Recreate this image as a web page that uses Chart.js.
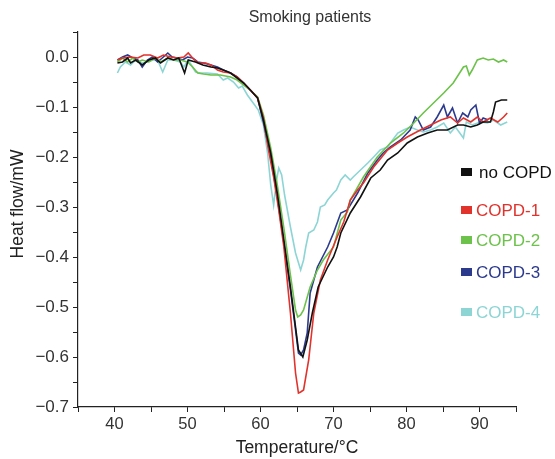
<!DOCTYPE html>
<html>
<head>
<meta charset="utf-8">
<script src="https://cdn.jsdelivr.net/npm/chart.js@4.4.1/dist/chart.umd.min.js"></script>
<style>
  html, body { margin: 0; padding: 0; background: #fff; }
  #wrap { width: 555px; height: 459px; position: relative; }
</style>
</head>
<body>
<div id="wrap"><canvas id="dscChart"></canvas></div>
<script>
// Smoking patients - DSC heat flow curves
const chartTitle = 'Smoking patients';
const xTitle = 'Temperature/\u00B0C';
const yTitle = 'Heat flow/mW';
const seriesNames = ['no COPD', 'COPD-1', 'COPD-2', 'COPD-3', 'COPD-4'];
const seriesColors = ['#111111', '#e2322c', '#6cc24a', '#2c3a8e', '#8dd5d5'];
const xTickLabels = [40, 50, 60, 70, 80, 90];
const yTickLabels = [0.0, -0.1, -0.2, -0.3, -0.4, -0.5, -0.6, -0.7];

// [temperature °C, heat flow mW]
const noCopd = [[40.4,-0.012],[41.1,-0.010],[41.8,-0.002],[42.2,-0.012],[42.9,-0.006],[43.8,-0.016],[44.7,-0.006],[45.6,-0.002],[46.3,-0.012],[47.3,-0.002],[48.1,-0.006],[48.8,-0.002],[49.6,-0.032],[50.1,-0.006],[51.1,-0.010],[52.1,-0.016],[53.2,-0.020],[54.1,-0.022],[54.9,-0.026],[55.9,-0.032],[56.8,-0.042],[57.7,-0.052],[58.6,-0.066],[59.6,-0.082],[60.4,-0.126],[61.4,-0.192],[62.3,-0.272],[63.2,-0.366],[64.1,-0.460],[64.8,-0.540],[65.2,-0.586],[65.8,-0.600],[66.4,-0.566],[67.1,-0.512],[67.9,-0.460],[69.2,-0.420],[70.0,-0.400],[70.5,-0.380],[71.0,-0.352],[72.3,-0.312],[73.7,-0.280],[75.1,-0.242],[76.4,-0.226],[77.4,-0.206],[78.8,-0.192],[80.1,-0.172],[81.5,-0.160],[82.9,-0.152],[84.2,-0.146],[85.6,-0.146],[87.0,-0.136],[87.8,-0.136],[88.8,-0.140],[89.7,-0.136],[90.5,-0.130],[91.5,-0.130],[91.9,-0.110],[92.2,-0.090],[93.0,-0.086],[93.8,-0.086]];
const copd1 = [[40.4,-0.006],[41.1,-0.002],[42.2,0.000],[43.2,-0.002],[44.0,0.004],[44.9,0.004],[45.9,-0.002],[46.7,0.004],[47.7,0.000],[48.6,-0.002],[49.5,0.000],[50.1,0.008],[50.7,-0.002],[51.5,-0.012],[52.5,-0.012],[53.2,-0.016],[53.6,-0.020],[54.1,-0.026],[54.9,-0.030],[55.9,-0.032],[56.8,-0.040],[57.7,-0.052],[58.6,-0.066],[59.6,-0.082],[60.4,-0.122],[61.1,-0.186],[61.8,-0.240],[62.5,-0.306],[63.2,-0.380],[64.1,-0.512],[64.8,-0.632],[65.2,-0.672],[65.5,-0.670],[65.9,-0.666],[66.6,-0.606],[67.3,-0.512],[68.2,-0.446],[69.2,-0.406],[70.5,-0.360],[71.4,-0.330],[72.3,-0.286],[73.3,-0.266],[74.1,-0.252],[75.5,-0.220],[76.4,-0.204],[77.4,-0.186],[78.8,-0.172],[80.1,-0.160],[81.9,-0.146],[83.3,-0.136],[84.7,-0.126],[86.0,-0.120],[87.0,-0.132],[87.8,-0.122],[88.8,-0.130],[89.7,-0.120],[90.5,-0.130],[91.5,-0.122],[92.5,-0.130],[93.3,-0.120],[93.8,-0.112]];
const copd2 = [[40.4,-0.010],[41.1,-0.002],[41.8,-0.010],[42.5,-0.002],[43.2,-0.010],[43.8,-0.006],[44.7,-0.010],[45.6,-0.002],[46.3,-0.010],[47.3,-0.002],[48.1,-0.006],[49.0,-0.006],[50.0,-0.010],[50.7,-0.020],[51.4,-0.032],[52.2,-0.034],[53.2,-0.036],[54.5,-0.036],[55.9,-0.040],[56.8,-0.046],[57.7,-0.056],[58.6,-0.066],[59.6,-0.080],[60.4,-0.116],[61.4,-0.182],[62.3,-0.256],[63.2,-0.342],[64.1,-0.436],[64.8,-0.506],[65.1,-0.520],[65.5,-0.516],[65.9,-0.506],[66.8,-0.460],[67.8,-0.426],[68.6,-0.406],[70.0,-0.380],[71.0,-0.326],[71.9,-0.310],[72.3,-0.286],[74.1,-0.240],[76.0,-0.200],[77.8,-0.172],[79.6,-0.152],[81.0,-0.132],[82.3,-0.112],[83.7,-0.092],[85.1,-0.072],[86.4,-0.052],[87.8,-0.020],[88.2,-0.018],[88.6,-0.036],[89.0,-0.026],[89.7,-0.006],[90.5,-0.002],[91.2,-0.006],[91.9,-0.004],[92.6,-0.010],[93.3,-0.006],[93.8,-0.010]];
const copd3 = [[40.4,-0.006],[41.1,0.000],[41.8,0.004],[42.5,-0.002],[43.2,-0.006],[43.8,-0.020],[44.5,-0.006],[45.2,0.000],[45.9,-0.010],[46.7,0.000],[47.3,0.008],[47.9,0.000],[48.6,-0.002],[49.3,-0.006],[50.0,0.000],[50.7,-0.002],[51.4,-0.010],[52.2,-0.012],[53.2,-0.016],[54.1,-0.020],[54.9,-0.026],[55.9,-0.032],[56.8,-0.040],[57.7,-0.052],[58.6,-0.066],[59.6,-0.082],[60.4,-0.130],[61.4,-0.200],[62.3,-0.280],[63.2,-0.372],[64.1,-0.466],[64.8,-0.546],[65.2,-0.592],[65.5,-0.596],[65.9,-0.586],[66.4,-0.552],[66.8,-0.472],[67.8,-0.420],[69.2,-0.380],[70.0,-0.352],[71.0,-0.312],[71.9,-0.306],[73.3,-0.272],[74.7,-0.232],[76.0,-0.206],[76.8,-0.192],[77.8,-0.180],[79.2,-0.166],[80.5,-0.146],[81.2,-0.120],[81.6,-0.126],[82.3,-0.146],[83.3,-0.140],[84.2,-0.120],[85.1,-0.096],[85.6,-0.120],[86.3,-0.102],[87.0,-0.132],[87.7,-0.112],[88.4,-0.120],[88.8,-0.106],[89.5,-0.096],[90.0,-0.132],[90.5,-0.122],[91.2,-0.126]];
const copd4 = [[40.4,-0.032],[40.8,-0.020],[41.5,-0.010],[42.2,-0.016],[42.9,-0.006],[43.8,-0.012],[44.5,-0.010],[45.2,-0.006],[45.9,-0.006],[46.6,-0.030],[47.3,-0.006],[48.1,-0.006],[49.0,-0.010],[49.5,-0.020],[50.1,-0.006],[51.1,-0.030],[51.8,-0.032],[52.7,-0.032],[54.1,-0.034],[54.9,-0.046],[55.5,-0.042],[56.3,-0.050],[57.0,-0.062],[57.5,-0.058],[58.2,-0.076],[59.0,-0.092],[59.7,-0.106],[60.4,-0.136],[61.0,-0.196],[61.4,-0.256],[61.8,-0.296],[62.2,-0.246],[62.5,-0.222],[62.9,-0.236],[63.3,-0.276],[64.1,-0.340],[64.8,-0.392],[65.5,-0.426],[65.9,-0.406],[66.2,-0.380],[66.6,-0.352],[67.3,-0.346],[67.8,-0.330],[68.2,-0.300],[68.8,-0.296],[69.2,-0.286],[70.0,-0.272],[70.4,-0.266],[71.0,-0.246],[71.6,-0.236],[72.3,-0.246],[72.7,-0.240],[73.7,-0.226],[74.7,-0.212],[75.5,-0.200],[76.4,-0.186],[77.4,-0.180],[78.1,-0.166],[78.8,-0.152],[79.6,-0.146],[80.5,-0.140],[81.5,-0.146],[82.3,-0.150],[83.3,-0.146],[84.2,-0.140],[85.1,-0.132],[86.0,-0.152],[86.7,-0.140],[87.8,-0.162],[88.2,-0.130],[89.0,-0.136],[90.1,-0.130],[91.1,-0.132],[91.9,-0.126],[92.9,-0.136],[93.8,-0.130]];

const seriesData = [noCopd, copd1, copd2, copd3, copd4];
const fontFam = '"Liberation Sans", Arial, Helvetica, sans-serif';

function fmtY(v) {
    const s = Math.abs(v).toFixed(1);
    return v < -0.001 ? '\u2212' + s : s;
}

// title, y title and legend drawn on the canvas
const extrasPlugin = {
    id: 'extras',
    afterDraw(chart) {
        const ctx = chart.ctx;
        ctx.save();
        ctx.fillStyle = '#333';
        ctx.font = '16px ' + fontFam;
        ctx.textAlign = 'center';
        ctx.textBaseline = 'middle';
        ctx.fillText(chartTitle, 310, 18);

        ctx.save();
        ctx.translate(18, 204);
        ctx.rotate(-Math.PI / 2);
        ctx.font = '17.5px ' + fontFam;
        ctx.fillStyle = '#222';
        ctx.fillText(yTitle, 0, 0);
        ctx.restore();

        const legendY = [172, 210, 240, 272, 312];
        ctx.font = '17px ' + fontFam;
        ctx.textAlign = 'left';
        seriesNames.forEach((name, i) => {
            ctx.fillStyle = seriesColors[i];
            ctx.fillRect(461, legendY[i] - 4, 11, 8);
            ctx.fillText(name, i === 0 ? 479 : 476, legendY[i] + 1);
        });
        ctx.restore();
    }
};

const ctx = document.getElementById('dscChart').getContext('2d');
new Chart(ctx, {
    type: 'line',
    data: {
        datasets: seriesData.map((pts, i) => ({
            label: seriesNames[i],
            data: pts.map(p => ({ x: p[0], y: p[1] })),
            borderColor: seriesColors[i],
            backgroundColor: seriesColors[i],
            borderWidth: 1.6,
            pointRadius: 0,
            tension: 0,
            fill: false
        }))
    },
    options: {
        responsive: true,
        maintainAspectRatio: false,
        animation: false,
        layout: {
            autoPadding: false,
            padding: { left: 0, right: 39, top: 32, bottom: 0 }
        },
        plugins: {
            legend: { display: false },
            tooltip: { enabled: false },
            title: { display: false }
        },
        scales: {
            x: {
                type: 'linear',
                min: 35,
                max: 95,
                afterFit: s => { s.height = 52; s.paddingLeft = 0; s.paddingRight = 0; },
                ticks: {
                    stepSize: 5,
                    maxRotation: 0,
                    padding: 3,
                    color: '#333',
                    font: { size: 16.5, family: fontFam },
                    callback: v => xTickLabels.includes(v) ? String(v) : ''
                },
                grid: {
                    drawOnChartArea: false,
                    tickLength: 5,
                    color: '#222'
                },
                border: { color: '#222', width: 1.2 },
                title: {
                    display: true,
                    text: xTitle,
                    color: '#222',
                    font: { size: 17.5, family: fontFam },
                    padding: { top: 0, bottom: 0 }
                }
            },
            y: {
                type: 'linear',
                min: -0.7,
                max: 0.05,
                afterFit: s => { s.width = 78; s.paddingTop = 0; s.paddingBottom = 0; },
                ticks: {
                    stepSize: 0.05,
                    padding: 4,
                    color: '#333',
                    font: { size: 17, family: fontFam },
                    callback: v => {
                        const r = Math.round(v * 100);
                        return r % 10 === 0 ? fmtY(r / 100) : '';
                    }
                },
                grid: {
                    drawOnChartArea: false,
                    tickLength: 5,
                    color: '#222'
                },
                border: { color: '#222', width: 1.2 }
            }
        }
    },
    plugins: [extrasPlugin]
});
</script>
</body>
</html>
